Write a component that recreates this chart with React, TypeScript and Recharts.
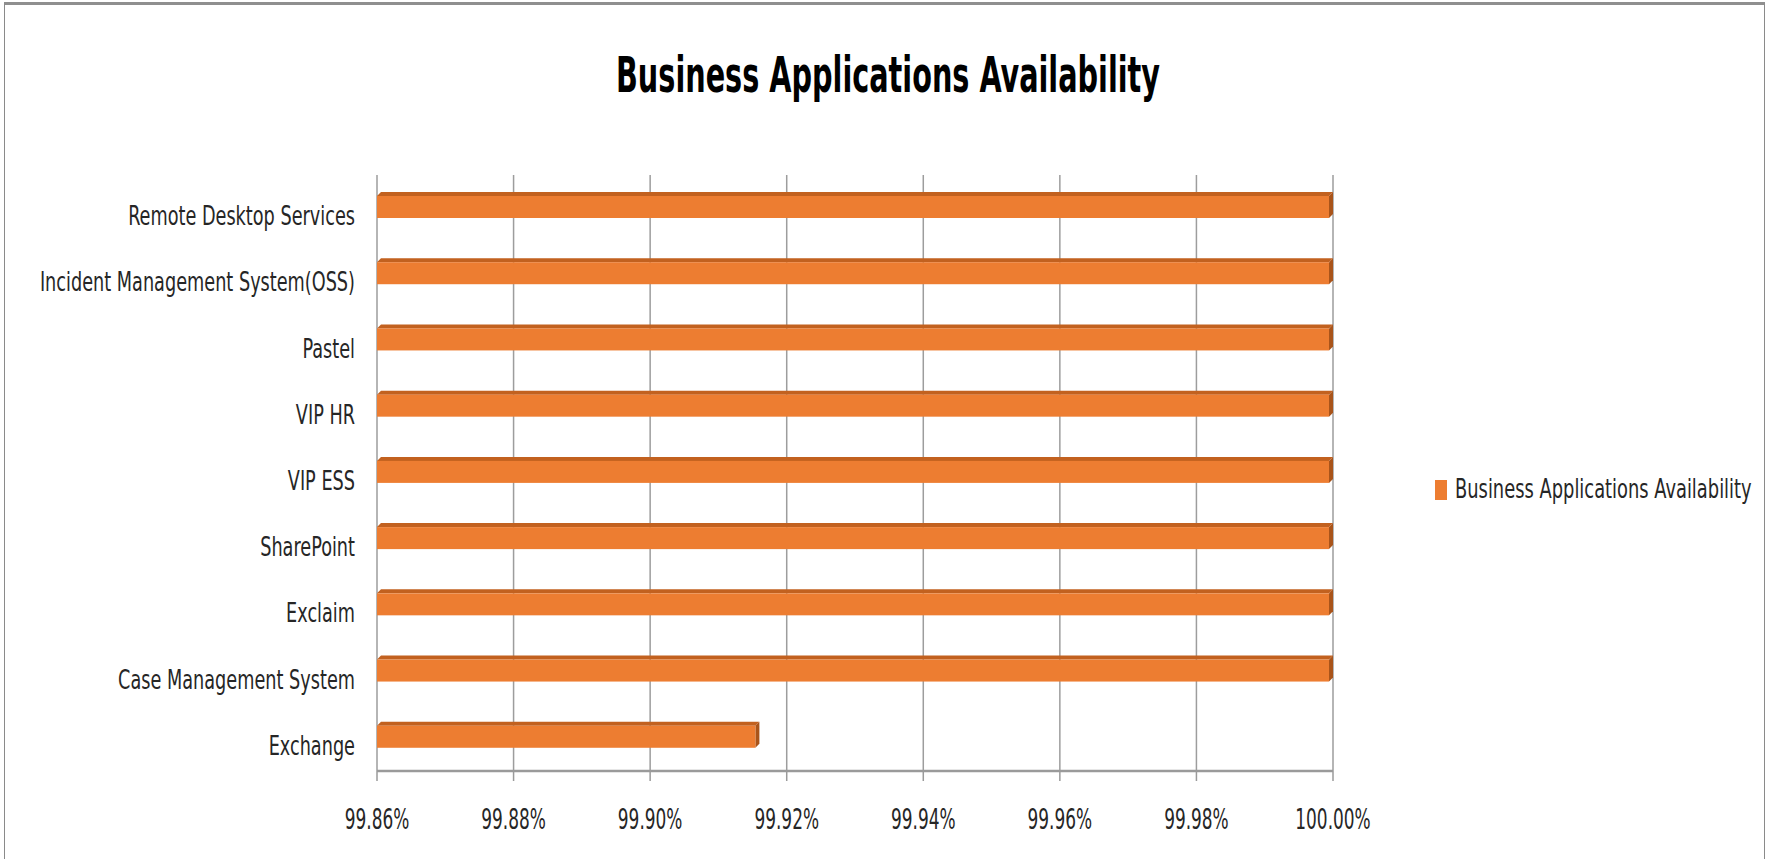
import React from 'react';
import { BarChart, Bar, XAxis, YAxis, CartesianGrid, Legend } from 'recharts';

const categories = [
  'Remote Desktop Services',
  'Incident Management System(OSS)',
  'Pastel',
  'VIP HR',
  'VIP ESS',
  'SharePoint',
  'Exclaim',
  'Case Management System',
  'Exchange',
];
const availability = [100, 100, 100, 100, 100, 100, 100, 100, 99.916];
const xTicks = [99.86, 99.88, 99.9, 99.92, 99.94, 99.96, 99.98, 100.0];
const boundaryTicks = [0, 1, 2, 3, 4, 5, 6, 7, 8, 9];
const seriesName = 'Business Applications Availability';
const titleText = 'Business Applications Availability';

const data = categories.map((name, i) => ({ name, value: availability[i] }));

const FONT = "'DejaVu Sans Condensed', 'DejaVu Sans', sans-serif";
const ORANGE = '#ED7D31';
const ORANGE_TOP = '#C2611F';
const ORANGE_SIDE = '#A9541A';
const GRID = '#9d9d9d';
const TEXT = '#262626';

const Bar3D = (props: any) => {
  const { x, width, height } = props;
  const y = props.y - 3;
  if (!width || width <= 0) return <g />;
  const d = 4;
  const frontW = width - d;
  return (
    <g>
      <polygon
        points={`${x},${y + d} ${x + d},${y} ${x + width},${y} ${x + frontW},${y + d}`}
        fill={ORANGE_TOP}
      />
      <polygon
        points={`${x + frontW},${y + d} ${x + width},${y} ${x + width},${y + height - d} ${x + frontW},${y + height}`}
        fill={ORANGE_SIDE}
      />
      <rect x={x} y={y + d} width={frontW} height={height - d} fill={ORANGE} />
    </g>
  );
};

const YTick = (props: any) => {
  const { x, y, payload } = props;
  return (
    <text
      transform={`translate(${x} ${y}) scale(0.728 1)`}
      x={0}
      y={0}
      dy={17}
      textAnchor="end"
      fontFamily={FONT}
      fontSize={27}
      fill={TEXT}
    >
      {payload.value}
    </text>
  );
};

const XTick = (props: any) => {
  const { x, y, payload } = props;
  return (
    <text
      transform={`translate(${x} ${y}) scale(0.65 1)`}
      x={0}
      y={0}
      dy={21}
      textAnchor="middle"
      fontFamily={FONT}
      fontSize={29}
      fill={TEXT}
    >
      {Number(payload.value).toFixed(2) + '%'}
    </text>
  );
};

const LegendContent = () => (
  <div style={{ position: 'relative', height: 24, fontFamily: FONT, fontSize: 26, color: TEXT, whiteSpace: 'nowrap' }}>
    <span style={{ position: 'absolute', left: 0, top: 1, width: 12, height: 20, background: ORANGE }} />
    <span
      style={{
        position: 'absolute',
        left: 20,
        top: -6,
        transform: 'scaleX(0.764)',
        transformOrigin: 'left center',
        lineHeight: '32px',
      }}
    >
      {seriesName}
    </span>
  </div>
);

export default function App() {
  return (
    <div style={{ position: 'relative', width: 1771, height: 859, background: '#fff', overflow: 'hidden' }}>
      <style>{`body{margin:0;overflow:hidden;}`}</style>
      <div
        style={{
          position: 'absolute',
          left: 4,
          top: 2,
          width: 1761,
          height: 857,
          borderLeft: '1px solid #8a8a8a',
          borderRight: '1px solid #8a8a8a',
          borderTop: '3px solid #8f8f8f',
          boxSizing: 'border-box',
        }}
      />
      <svg style={{ position: 'absolute', left: 0, top: 0 }} width={1771} height={120}>
        <text
          x={616}
          y={92}
          textLength={544}
          lengthAdjust="spacingAndGlyphs"
          fontFamily={FONT}
          fontWeight="bold"
          fontSize={50}
          fill="#000"
        >
          {titleText}
        </text>
      </svg>
      <div style={{ position: 'absolute', left: 0, top: 0 }}>
        <BarChart
          width={1771}
          height={859}
          data={data}
          layout="vertical"
          margin={{ top: 175, right: 108, bottom: 28, left: 0 }}
          barCategoryGap={0}
        >
          <CartesianGrid horizontal={false} vertical={true} stroke={GRID} strokeWidth={1.5} />
          <XAxis
            type="number"
            domain={[99.86, 100]}
            ticks={xTicks}
            allowDataOverflow
            height={60}
            tickSize={10}
            tickMargin={27}
            tick={<XTick />}
            axisLine={{ stroke: '#9a9a9a', strokeWidth: 2.5 }}
            tickLine={{ stroke: '#9a9a9a', strokeWidth: 1.5 }}
          />
          <YAxis
            yAxisId="bounds"
            type="number"
            domain={[0, 9]}
            ticks={boundaryTicks}
            width={0}
            tickSize={7}
            tick={() => <g />}
            axisLine={{ stroke: '#9a9a9a', strokeWidth: 1.5 }}
            tickLine={{ stroke: '#9a9a9a', strokeWidth: 1.5 }}
          />
          <YAxis
            yAxisId="cat"
            type="category"
            dataKey="name"
            width={377}
            tickLine={false}
            axisLine={false}
            tickSize={0}
            tickMargin={22}
            tick={<YTick />}
            interval={0}
          />
          <Legend
            layout="vertical"
            align="right"
            verticalAlign="middle"
            content={<LegendContent />}
            wrapperStyle={{ left: 1435, top: 479, width: 330, height: 24, right: 'auto' }}
          />
          <Bar
            yAxisId="cat"
            dataKey="value"
            name={seriesName}
            fill={ORANGE}
            barSize={26}
            shape={<Bar3D />}
            isAnimationActive={false}
          />
        </BarChart>
      </div>
    </div>
  );
}
